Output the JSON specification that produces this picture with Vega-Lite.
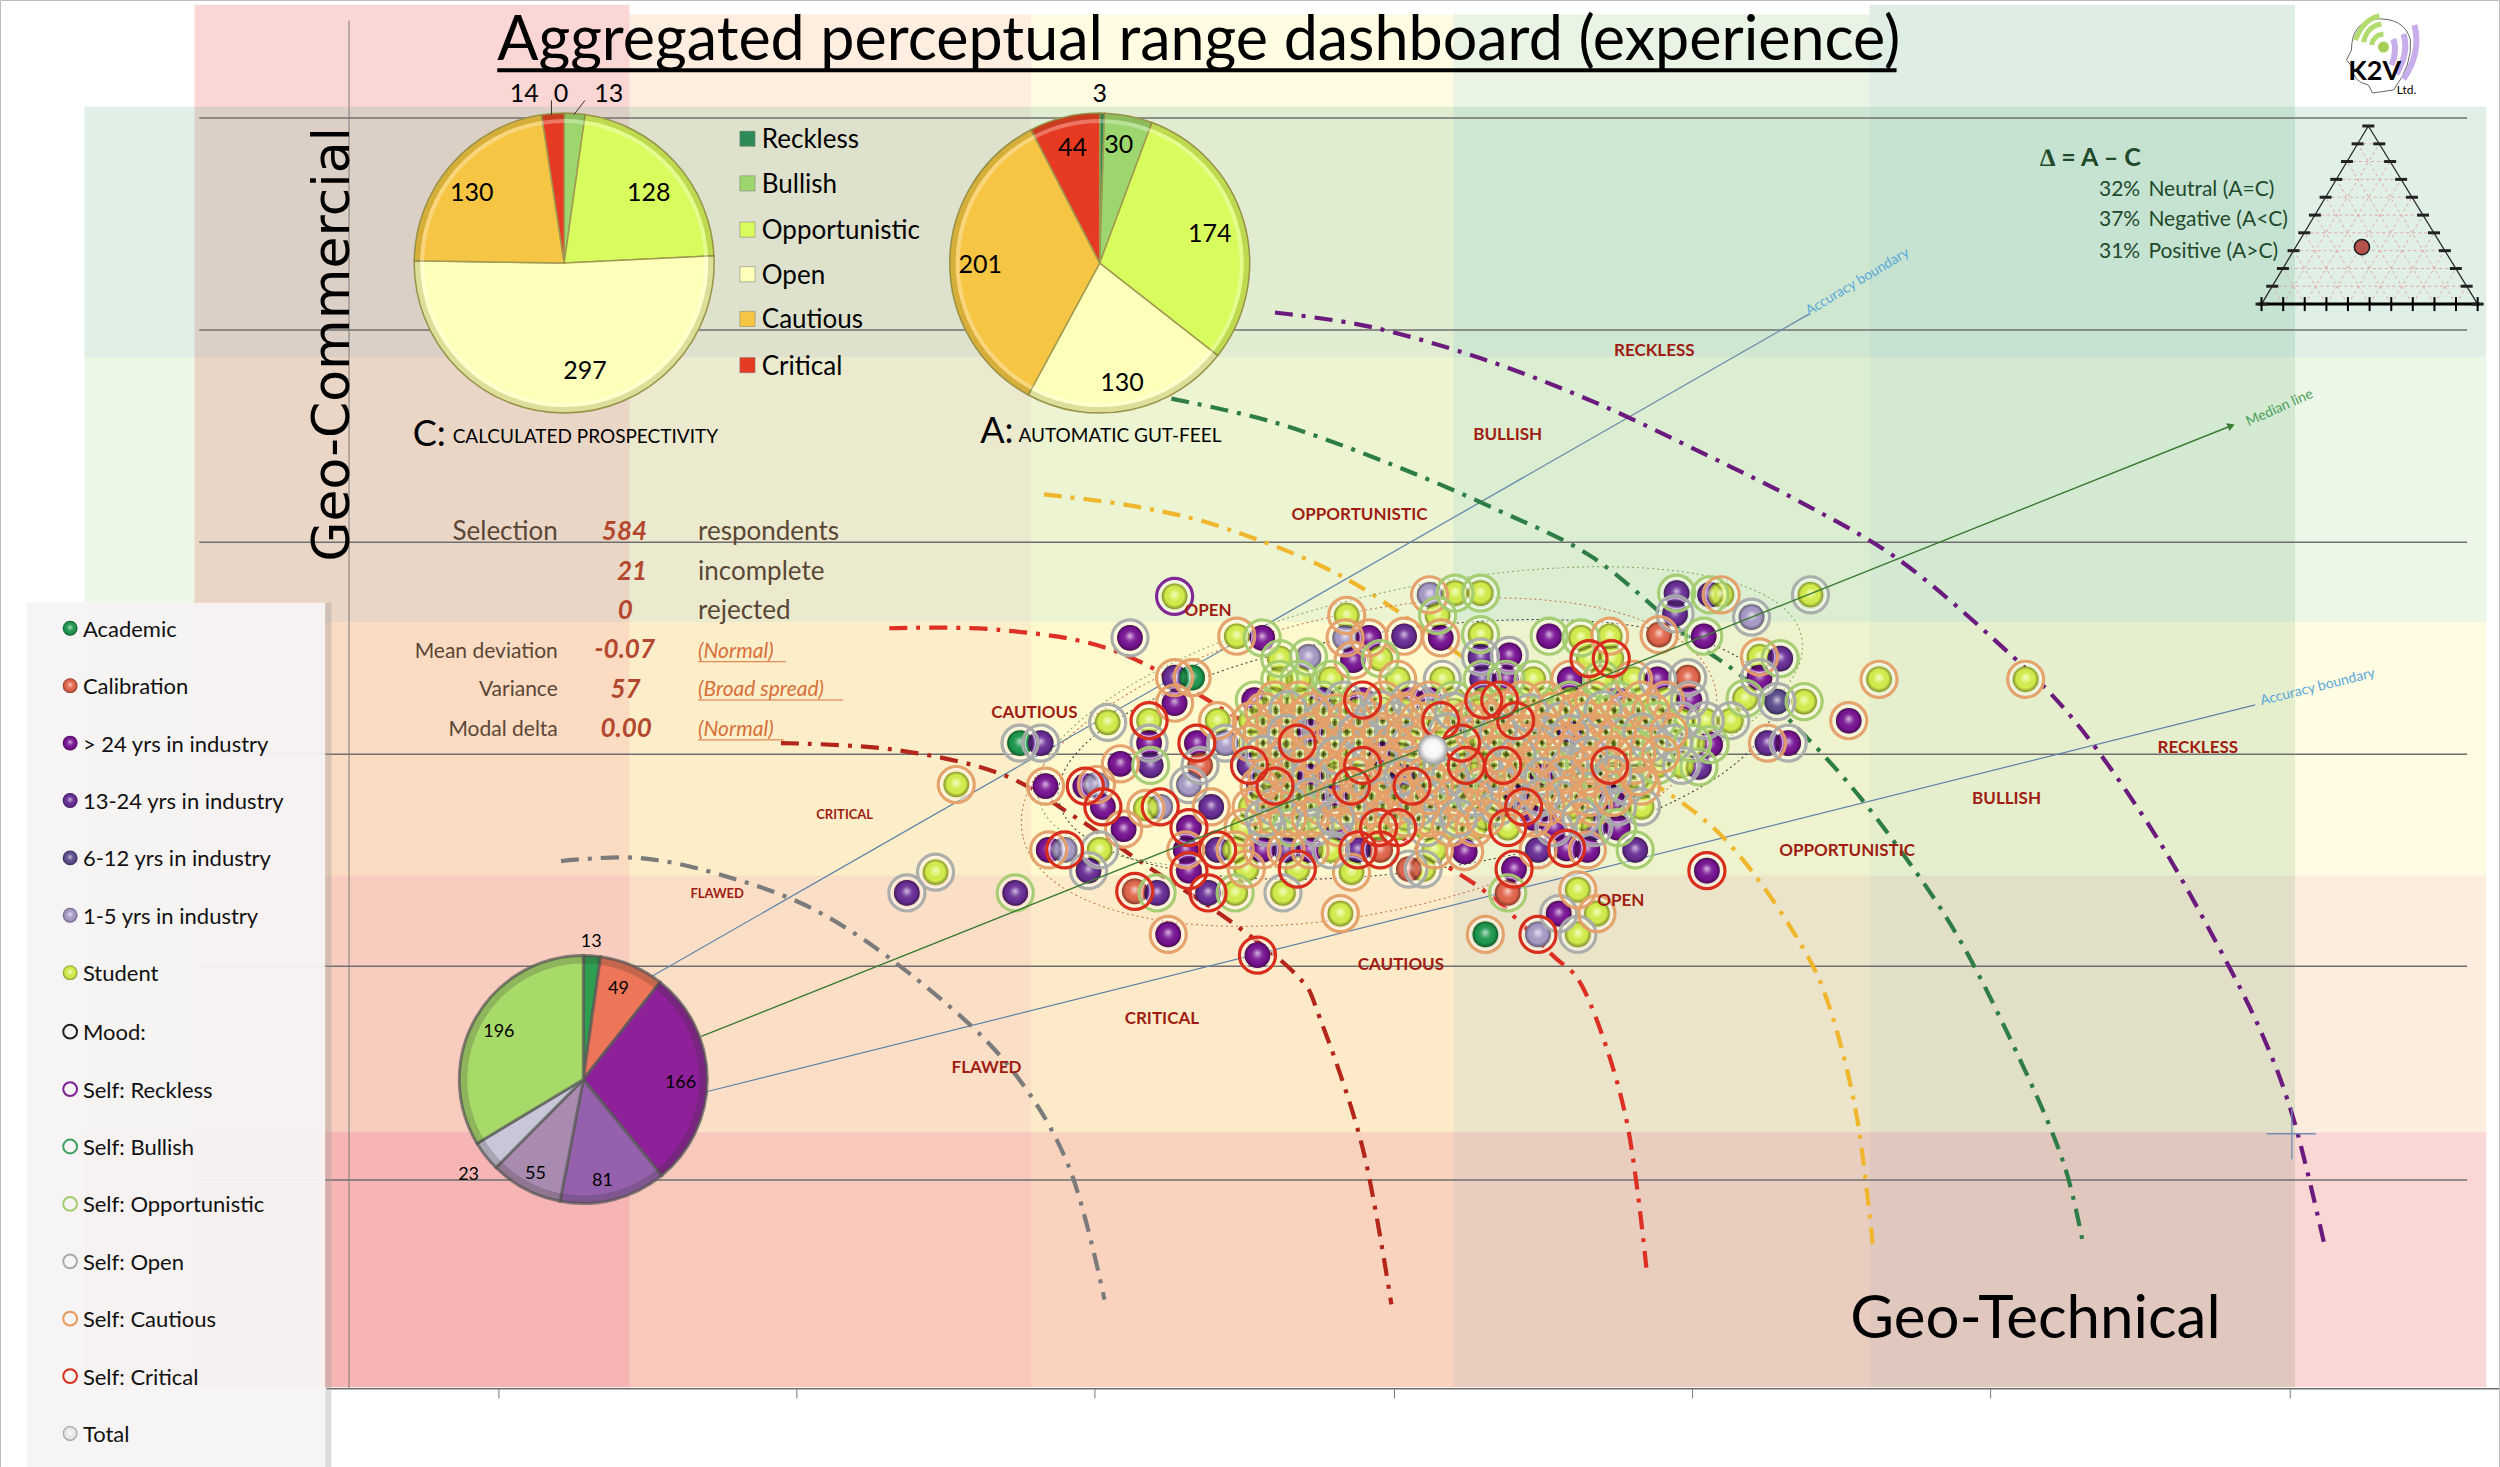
{"$schema":"https://vega.github.io/schema/vega-lite/v6.json","width":2500,"height":1467,"padding":0,"autosize":{"type":"fit","contains":"padding"},"background":"white","view":{"stroke":"#bdbdbd"},"config":{"text":{"dy":1.5}},
"datasets":{
"pts":[
{"x":737,"y":374,"g":"S","m":"R"},{"x":709,"y":400,"g":"D","m":"O"},{"x":776,"y":399,"g":"S","m":"C"},{"x":792,"y":400,"g":"D","m":"P"},{"x":821,"y":412,"g":"L","m":"P"},{"x":803,"y":413,"g":"S","m":"P"},{"x":845,"y":386,"g":"S","m":"C"},{"x":844,"y":400,"g":"L","m":"C"},{"x":859,"y":400,"g":"D","m":"C"},{"x":881,"y":399,"g":"M","m":"C"},{"x":849,"y":414,"g":"D","m":"C"},{"x":866,"y":413,"g":"S","m":"P"},{"x":897,"y":373,"g":"L","m":"C"},{"x":913,"y":372,"g":"S","m":"P"},{"x":929,"y":372,"g":"S","m":"P"},{"x":902,"y":386,"g":"S","m":"P"},{"x":904,"y":400,"g":"D","m":"C"},{"x":929,"y":398,"g":"S","m":"P"},{"x":929,"y":412,"g":"M","m":"O"},{"x":947,"y":411,"g":"D","m":"O"},{"x":972,"y":399,"g":"D","m":"P"},{"x":992,"y":400,"g":"S","m":"P"},{"x":1010,"y":399,"g":"S","m":"C"},{"x":997,"y":413,"g":"S","m":"K"},{"x":1011,"y":413,"g":"S","m":"K"},
{"x":1052,"y":372,"g":"M","m":"P"},{"x":1073,"y":373,"g":"M","m":"P"},{"x":1080,"y":373,"g":"S","m":"C"},{"x":1051,"y":385,"g":"M","m":"O"},{"x":1099,"y":387,"g":"L","m":"O"},{"x":1136,"y":373,"g":"S","m":"O"},{"x":1069,"y":399,"g":"D","m":"P"},{"x":1041,"y":398,"g":"C","m":"C"},{"x":1104,"y":412,"g":"S","m":"C"},{"x":1117,"y":413,"g":"M","m":"P"},{"x":1104,"y":425,"g":"D","m":"O"},{"x":1095,"y":438,"g":"S","m":"P"},{"x":1115,"y":440,"g":"N","m":"O"},{"x":1132,"y":440,"g":"S","m":"P"},{"x":1086,"y":452,"g":"S","m":"O"},{"x":1179,"y":426,"g":"S","m":"C"},{"x":1160,"y":452,"g":"D","m":"C"},{"x":1109,"y":466,"g":"M","m":"C"},{"x":1122,"y":466,"g":"D","m":"O"},{"x":1073,"y":467,"g":"D","m":"P"},{"x":1066,"y":481,"g":"M","m":"P"},{"x":1059,"y":425,"g":"C","m":"O"},{"x":1271,"y":426,"g":"S","m":"C"},
{"x":640,"y":466,"g":"A","m":"O"},{"x":653,"y":466,"g":"M","m":"O"},{"x":695,"y":453,"g":"S","m":"O"},{"x":656,"y":493,"g":"D","m":"C"},{"x":600,"y":492,"g":"S","m":"C"},{"x":737,"y":425,"g":"M","m":"C"},{"x":748,"y":425,"g":"A","m":"C"},{"x":737,"y":441,"g":"D","m":"C"},{"x":721,"y":452,"g":"S","m":"K"},{"x":764,"y":452,"g":"S","m":"C"},{"x":751,"y":466,"g":"D","m":"K"},{"x":769,"y":466,"g":"L","m":"O"},{"x":721,"y":466,"g":"D","m":"O"},{"x":753,"y":480,"g":"C","m":"O"},{"x":703,"y":479,"g":"D","m":"C"},{"x":722,"y":480,"g":"M","m":"P"},{"x":681,"y":493,"g":"D","m":"K"},{"x":688,"y":492,"g":"L","m":"C"},{"x":746,"y":492,"g":"L","m":"O"},{"x":728,"y":506,"g":"L","m":"K"},{"x":692,"y":506,"g":"D","m":"K"},{"x":760,"y":506,"g":"M","m":"C"},{"x":719,"y":507,"g":"S","m":"C"},{"x":705,"y":520,"g":"D","m":"C"},{"x":746,"y":519,"g":"D","m":"K"},{"x":658,"y":533,"g":"D","m":"C"},{"x":668,"y":533,"g":"L","m":"K"},{"x":690,"y":533,"g":"S","m":"O"},{"x":764,"y":533,"g":"M","m":"K"},{"x":744,"y":533,"g":"D","m":"C"},{"x":683,"y":546,"g":"M","m":"O"},{"x":637,"y":560,"g":"M","m":"P"},{"x":712,"y":559,"g":"C","m":"K"},{"x":726,"y":560,"g":"M","m":"P"},{"x":758,"y":560,"g":"M","m":"K"},{"x":746,"y":546,"g":"D","m":"K"},{"x":775,"y":560,"g":"S","m":"P"},{"x":805,"y":560,"g":"S","m":"O"},{"x":841,"y":573,"g":"S","m":"C"},{"x":733,"y":586,"g":"D","m":"C"},{"x":789,"y":599,"g":"D","m":"K"},{"x":932,"y":586,"g":"A","m":"C"},{"x":965,"y":586,"g":"L","m":"K"},{"x":990,"y":586,"g":"S","m":"O"},{"x":978,"y":573,"g":"D","m":"O"},{"x":1002,"y":573,"g":"S","m":"C"},{"x":990,"y":558,"g":"S","m":"C"},{"x":946,"y":560,"g":"C","m":"P"},{"x":950,"y":545,"g":"D","m":"K"},{"x":1071,"y":546,"g":"D","m":"K"},{"x":1026,"y":533,"g":"M","m":"P"},{"x":996,"y":533,"g":"D","m":"C"},{"x":983,"y":532,"g":"D","m":"K"},{"x":965,"y":533,"g":"M","m":"C"},{"x":919,"y":534,"g":"D","m":"C"},{"x":893,"y":545,"g":"S","m":"O"},{"x":884,"y":545,"g":"C","m":"O"},{"x":848,"y":547,"g":"S","m":"C"},{"x":866,"y":533,"g":"C","m":"K"},{"x":814,"y":545,"g":"S","m":"K"},{"x":782,"y":545,"g":"S","m":"C"},{"x":569,"y":560,"g":"M","m":"O"},{"x":587,"y":547,"g":"S","m":"O"},
{"x":803,"y":426,"g":"S","m":"P"},{"x":815,"y":426,"g":"S","m":"P"},{"x":835,"y":426,"g":"S","m":"P"},{"x":877,"y":426,"g":"S","m":"C"},{"x":905,"y":426,"g":"S","m":"O"},{"x":930,"y":426,"g":"M","m":"P"},{"x":945,"y":426,"g":"D","m":"P"},{"x":962,"y":426,"g":"S","m":"P"},{"x":985,"y":426,"g":"D","m":"C"},{"x":1005,"y":426,"g":"S","m":"P"},{"x":1025,"y":426,"g":"S","m":"C"},{"x":1040,"y":426,"g":"D","m":"O"},
{"x":787,"y":439,"g":"D","m":"P"},{"x":800,"y":439,"g":"S","m":"C"},{"x":815,"y":439,"g":"S","m":"C"},{"x":830,"y":439,"g":"M","m":"P"},{"x":843,"y":439,"g":"S","m":"O"},{"x":855,"y":439,"g":"D","m":"K"},{"x":868,"y":439,"g":"S","m":"C"},{"x":885,"y":439,"g":"D","m":"O"},{"x":897,"y":439,"g":"D","m":"C"},{"x":912,"y":439,"g":"S","m":"P"},{"x":931,"y":439,"g":"S","m":"K"},{"x":941,"y":439,"g":"S","m":"K"},{"x":955,"y":439,"g":"S","m":"C"},{"x":970,"y":439,"g":"S","m":"C"},{"x":985,"y":439,"g":"S","m":"P"},{"x":1000,"y":439,"g":"S","m":"C"},{"x":1015,"y":439,"g":"M","m":"P"},{"x":1030,"y":439,"g":"S","m":"C"},{"x":1045,"y":439,"g":"S","m":"C"},{"x":1060,"y":439,"g":"D","m":"O"},
{"x":785,"y":452,"g":"S","m":"C"},{"x":800,"y":452,"g":"S","m":"C"},{"x":815,"y":452,"g":"S","m":"C"},{"x":830,"y":452,"g":"S","m":"O"},{"x":845,"y":452,"g":"S","m":"C"},{"x":860,"y":452,"g":"S","m":"O"},{"x":875,"y":452,"g":"S","m":"O"},{"x":890,"y":452,"g":"S","m":"C"},{"x":904,"y":452,"g":"S","m":"K"},{"x":920,"y":452,"g":"D","m":"C"},{"x":935,"y":452,"g":"S","m":"C"},{"x":951,"y":452,"g":"S","m":"K"},{"x":966,"y":452,"g":"S","m":"C"},{"x":980,"y":452,"g":"S","m":"O"},{"x":996,"y":452,"g":"M","m":"C"},{"x":1010,"y":452,"g":"D","m":"C"},{"x":1025,"y":452,"g":"S","m":"P"},{"x":1040,"y":452,"g":"S","m":"P"},{"x":1055,"y":452,"g":"S","m":"O"},{"x":1070,"y":452,"g":"S","m":"O"},
{"x":785,"y":466,"g":"S","m":"C"},{"x":800,"y":466,"g":"S","m":"C"},{"x":814,"y":466,"g":"D","m":"K"},{"x":830,"y":466,"g":"S","m":"O"},{"x":845,"y":466,"g":"S","m":"C"},{"x":860,"y":466,"g":"S","m":"O"},{"x":875,"y":466,"g":"S","m":"C"},{"x":885,"y":466,"g":"S","m":"O"},{"x":917,"y":466,"g":"S","m":"K"},{"x":930,"y":466,"g":"S","m":"P"},{"x":945,"y":466,"g":"S","m":"C"},{"x":960,"y":466,"g":"S","m":"C"},{"x":975,"y":466,"g":"S","m":"O"},{"x":990,"y":466,"g":"S","m":"C"},{"x":1005,"y":466,"g":"D","m":"C"},{"x":1020,"y":466,"g":"S","m":"P"},{"x":1035,"y":466,"g":"S","m":"O"},{"x":1050,"y":466,"g":"L","m":"O"},{"x":1062,"y":466,"g":"S","m":"P"},
{"x":784,"y":480,"g":"M","m":"K"},{"x":800,"y":480,"g":"S","m":"O"},{"x":815,"y":480,"g":"S","m":"C"},{"x":830,"y":480,"g":"S","m":"C"},{"x":855,"y":480,"g":"D","m":"K"},{"x":870,"y":480,"g":"S","m":"C"},{"x":886,"y":480,"g":"S","m":"O"},{"x":905,"y":480,"g":"S","m":"O"},{"x":920,"y":480,"g":"S","m":"K"},{"x":930,"y":480,"g":"S","m":"O"},{"x":943,"y":480,"g":"S","m":"K"},{"x":958,"y":480,"g":"S","m":"C"},{"x":972,"y":480,"g":"S","m":"P"},{"x":985,"y":480,"g":"S","m":"O"},{"x":998,"y":480,"g":"S","m":"C"},{"x":1010,"y":480,"g":"S","m":"K"},{"x":1025,"y":480,"g":"S","m":"C"},{"x":1040,"y":480,"g":"S","m":"P"},{"x":1055,"y":480,"g":"S","m":"O"},
{"x":790,"y":493,"g":"M","m":"C"},{"x":800,"y":493,"g":"S","m":"K"},{"x":815,"y":493,"g":"S","m":"O"},{"x":830,"y":493,"g":"S","m":"C"},{"x":848,"y":493,"g":"D","m":"K"},{"x":862,"y":493,"g":"S","m":"O"},{"x":875,"y":493,"g":"S","m":"C"},{"x":886,"y":493,"g":"S","m":"K"},{"x":900,"y":493,"g":"S","m":"C"},{"x":915,"y":493,"g":"S","m":"P"},{"x":930,"y":493,"g":"S","m":"C"},{"x":945,"y":493,"g":"D","m":"O"},{"x":960,"y":493,"g":"D","m":"C"},{"x":975,"y":493,"g":"S","m":"O"},{"x":990,"y":493,"g":"S","m":"C"},{"x":1005,"y":493,"g":"S","m":"P"},{"x":1020,"y":493,"g":"S","m":"O"},{"x":1030,"y":493,"g":"S","m":"C"},
{"x":785,"y":506,"g":"S","m":"C"},{"x":800,"y":506,"g":"S","m":"O"},{"x":815,"y":506,"g":"S","m":"P"},{"x":830,"y":506,"g":"D","m":"C"},{"x":845,"y":506,"g":"M","m":"O"},{"x":860,"y":506,"g":"S","m":"C"},{"x":875,"y":506,"g":"S","m":"C"},{"x":890,"y":506,"g":"S","m":"O"},{"x":905,"y":506,"g":"L","m":"O"},{"x":920,"y":506,"g":"S","m":"C"},{"x":940,"y":506,"g":"D","m":"O"},{"x":956,"y":506,"g":"S","m":"K"},{"x":970,"y":506,"g":"D","m":"C"},{"x":985,"y":506,"g":"S","m":"C"},{"x":1000,"y":506,"g":"D","m":"C"},{"x":1015,"y":506,"g":"S","m":"O"},{"x":1030,"y":506,"g":"S","m":"O"},
{"x":780,"y":519,"g":"S","m":"C"},{"x":795,"y":519,"g":"S","m":"O"},{"x":810,"y":519,"g":"S","m":"P"},{"x":825,"y":519,"g":"S","m":"O"},{"x":840,"y":519,"g":"D","m":"C"},{"x":865,"y":519,"g":"S","m":"K"},{"x":877,"y":519,"g":"S","m":"K"},{"x":895,"y":519,"g":"S","m":"O"},{"x":910,"y":519,"g":"S","m":"C"},{"x":925,"y":519,"g":"S","m":"C"},{"x":946,"y":519,"g":"S","m":"K"},{"x":975,"y":519,"g":"D","m":"O"},{"x":1000,"y":519,"g":"M","m":"O"},{"x":1015,"y":519,"g":"D","m":"P"},
{"x":775,"y":533,"g":"S","m":"C"},{"x":792,"y":533,"g":"D","m":"C"},{"x":807,"y":533,"g":"M","m":"C"},{"x":822,"y":533,"g":"D","m":"C"},{"x":835,"y":533,"g":"S","m":"O"},{"x":852,"y":533,"g":"M","m":"K"},{"x":900,"y":533,"g":"S","m":"C"},
{"x":793,"y":446,"g":"S","m":"C"},{"x":808,"y":445,"g":"S","m":"O"},{"x":823,"y":446,"g":"S","m":"C"},{"x":838,"y":447,"g":"S","m":"C"},{"x":852,"y":446,"g":"S","m":"C"},{"x":867,"y":445,"g":"S","m":"O"},{"x":881,"y":446,"g":"S","m":"C"},{"x":897,"y":447,"g":"S","m":"C"},{"x":912,"y":446,"g":"S","m":"O"},{"x":928,"y":446,"g":"S","m":"C"},{"x":944,"y":445,"g":"S","m":"C"},{"x":960,"y":447,"g":"S","m":"O"},{"x":975,"y":446,"g":"S","m":"C"},{"x":990,"y":446,"g":"S","m":"C"},{"x":1006,"y":445,"g":"S","m":"O"},{"x":1020,"y":446,"g":"S","m":"C"},{"x":1036,"y":446,"g":"S","m":"C"},
{"x":792,"y":459,"g":"S","m":"C"},{"x":807,"y":460,"g":"S","m":"O"},{"x":822,"y":459,"g":"D","m":"C"},{"x":838,"y":460,"g":"S","m":"C"},{"x":852,"y":459,"g":"S","m":"O"},{"x":867,"y":459,"g":"S","m":"C"},{"x":882,"y":460,"g":"S","m":"C"},{"x":908,"y":459,"g":"S","m":"O"},{"x":925,"y":460,"g":"S","m":"C"},{"x":940,"y":459,"g":"S","m":"O"},{"x":955,"y":460,"g":"S","m":"C"},{"x":970,"y":459,"g":"S","m":"C"},{"x":985,"y":460,"g":"M","m":"O"},{"x":1000,"y":459,"g":"S","m":"C"},{"x":1015,"y":460,"g":"S","m":"C"},{"x":1030,"y":459,"g":"S","m":"O"},{"x":1047,"y":459,"g":"S","m":"C"},
{"x":793,"y":473,"g":"S","m":"O"},{"x":808,"y":473,"g":"S","m":"C"},{"x":823,"y":473,"g":"S","m":"C"},{"x":838,"y":474,"g":"S","m":"O"},{"x":852,"y":473,"g":"S","m":"C"},{"x":867,"y":473,"g":"D","m":"C"},{"x":880,"y":474,"g":"S","m":"C"},{"x":912,"y":473,"g":"S","m":"C"},{"x":938,"y":473,"g":"S","m":"C"},{"x":952,"y":474,"g":"S","m":"O"},{"x":967,"y":473,"g":"S","m":"C"},{"x":982,"y":473,"g":"S","m":"C"},{"x":997,"y":474,"g":"S","m":"O"},{"x":1012,"y":473,"g":"S","m":"C"},{"x":1027,"y":473,"g":"S","m":"C"},{"x":1042,"y":473,"g":"S","m":"C"},
{"x":795,"y":487,"g":"S","m":"C"},{"x":808,"y":486,"g":"S","m":"C"},{"x":822,"y":487,"g":"D","m":"O"},{"x":838,"y":486,"g":"S","m":"C"},{"x":852,"y":487,"g":"S","m":"C"},{"x":868,"y":486,"g":"S","m":"C"},{"x":880,"y":487,"g":"M","m":"O"},{"x":895,"y":486,"g":"S","m":"C"},{"x":910,"y":487,"g":"S","m":"O"},{"x":925,"y":486,"g":"S","m":"C"},{"x":940,"y":487,"g":"S","m":"C"},{"x":955,"y":486,"g":"S","m":"C"},{"x":968,"y":487,"g":"D","m":"O"},{"x":982,"y":486,"g":"S","m":"C"},{"x":997,"y":487,"g":"S","m":"C"},{"x":1012,"y":486,"g":"S","m":"O"},{"x":1028,"y":487,"g":"S","m":"C"},
{"x":793,"y":500,"g":"S","m":"C"},{"x":808,"y":500,"g":"S","m":"C"},{"x":822,"y":500,"g":"S","m":"O"},{"x":838,"y":500,"g":"D","m":"C"},{"x":853,"y":499,"g":"S","m":"C"},{"x":868,"y":500,"g":"S","m":"O"},{"x":882,"y":500,"g":"S","m":"C"},{"x":897,"y":499,"g":"S","m":"C"},{"x":912,"y":500,"g":"S","m":"C"},{"x":925,"y":500,"g":"S","m":"O"},{"x":938,"y":500,"g":"S","m":"C"},{"x":952,"y":500,"g":"M","m":"C"},{"x":967,"y":500,"g":"S","m":"O"},{"x":982,"y":499,"g":"S","m":"C"},{"x":997,"y":500,"g":"S","m":"C"},{"x":1012,"y":500,"g":"D","m":"C"},
{"x":793,"y":513,"g":"S","m":"O"},{"x":808,"y":513,"g":"S","m":"C"},{"x":822,"y":513,"g":"S","m":"C"},{"x":838,"y":513,"g":"S","m":"O"},{"x":852,"y":513,"g":"S","m":"C"},{"x":868,"y":512,"g":"S","m":"C"},{"x":882,"y":513,"g":"S","m":"C"},{"x":898,"y":513,"g":"S","m":"C"},{"x":915,"y":513,"g":"S","m":"O"},{"x":932,"y":513,"g":"S","m":"C"},{"x":962,"y":513,"g":"D","m":"C"},{"x":992,"y":513,"g":"S","m":"O"}
],
"curves":[
{"c":"Reckless","k":1,"x":800,"y":196},{"c":"Reckless","k":2,"x":860,"y":205},{"c":"Reckless","k":3,"x":930,"y":225},{"c":"Reckless","k":4,"x":1000,"y":252},{"c":"Reckless","k":5,"x":1070,"y":285},{"c":"Reckless","k":6,"x":1130,"y":315},{"c":"Reckless","k":7,"x":1190,"y":350},{"c":"Reckless","k":8,"x":1250,"y":400},{"c":"Reckless","k":9,"x":1300,"y":450},{"c":"Reckless","k":10,"x":1350,"y":520},{"c":"Reckless","k":11,"x":1390,"y":590},{"c":"Reckless","k":12,"x":1420,"y":650},{"c":"Reckless","k":13,"x":1440,"y":705},{"c":"Reckless","k":14,"x":1459,"y":783},
{"c":"Bullish","k":1,"x":735,"y":250},{"c":"Bullish","k":2,"x":800,"y":265},{"c":"Bullish","k":3,"x":870,"y":290},{"c":"Bullish","k":4,"x":940,"y":320},{"c":"Bullish","k":5,"x":1000,"y":350},{"c":"Bullish","k":6,"x":1060,"y":400},{"c":"Bullish","k":7,"x":1100,"y":430},{"c":"Bullish","k":8,"x":1150,"y":480},{"c":"Bullish","k":9,"x":1190,"y":530},{"c":"Bullish","k":10,"x":1230,"y":590},{"c":"Bullish","k":11,"x":1270,"y":670},{"c":"Bullish","k":12,"x":1295,"y":730},{"c":"Bullish","k":13,"x":1307,"y":780},
{"c":"Opportunistic","k":1,"x":655,"y":310},{"c":"Opportunistic","k":2,"x":715,"y":318},{"c":"Opportunistic","k":3,"x":771,"y":332},{"c":"Opportunistic","k":4,"x":843,"y":362},{"c":"Opportunistic","k":5,"x":915,"y":410},{"c":"Opportunistic","k":6,"x":987,"y":460},{"c":"Opportunistic","k":7,"x":1059,"y":506},{"c":"Opportunistic","k":8,"x":1095,"y":541},{"c":"Opportunistic","k":9,"x":1131,"y":594},{"c":"Opportunistic","k":10,"x":1149,"y":635},{"c":"Opportunistic","k":11,"x":1165,"y":700},{"c":"Opportunistic","k":12,"x":1175,"y":780},
{"c":"Open","k":1,"x":558,"y":394},{"c":"Open","k":2,"x":627,"y":395},{"c":"Open","k":3,"x":699,"y":408},{"c":"Open","k":4,"x":771,"y":447},{"c":"Open","k":5,"x":818,"y":479},{"c":"Open","k":6,"x":879,"y":525},{"c":"Open","k":7,"x":933,"y":560},{"c":"Open","k":8,"x":973,"y":598},{"c":"Open","k":9,"x":995,"y":623},{"c":"Open","k":10,"x":1020,"y":700},{"c":"Open","k":11,"x":1033,"y":795},
{"c":"Cautious","k":1,"x":490,"y":466},{"c":"Cautious","k":2,"x":560,"y":470},{"c":"Cautious","k":3,"x":627,"y":485},{"c":"Cautious","k":4,"x":674,"y":512},{"c":"Cautious","k":5,"x":721,"y":544},{"c":"Cautious","k":6,"x":771,"y":577},{"c":"Cautious","k":7,"x":814,"y":612},{"c":"Cautious","k":8,"x":828,"y":638},{"c":"Cautious","k":9,"x":855,"y":720},{"c":"Cautious","k":10,"x":873,"y":818},
{"c":"Flawed","k":1,"x":352,"y":540},{"c":"Flawed","k":2,"x":400,"y":538},{"c":"Flawed","k":3,"x":450,"y":548},{"c":"Flawed","k":4,"x":510,"y":570},{"c":"Flawed","k":5,"x":570,"y":610},{"c":"Flawed","k":6,"x":630,"y":665},{"c":"Flawed","k":7,"x":670,"y":730},{"c":"Flawed","k":8,"x":693,"y":815}
],
"pieC":[{"cat":"Reckless","k":1,"v":0,"x":354,"y":165},{"cat":"Bullish","k":2,"v":13,"x":354,"y":165},{"cat":"Opportunistic","k":3,"v":128,"x":354,"y":165},{"cat":"Open","k":4,"v":297,"x":354,"y":165},{"cat":"Cautious","k":5,"v":130,"x":354,"y":165},{"cat":"Critical","k":6,"v":14,"x":354,"y":165}],
"pieA":[{"cat":"Reckless","k":1,"v":3,"x":690,"y":165},{"cat":"Bullish","k":2,"v":30,"x":690,"y":165},{"cat":"Opportunistic","k":3,"v":174,"x":690,"y":165},{"cat":"Open","k":4,"v":130,"x":690,"y":165},{"cat":"Cautious","k":5,"v":201,"x":690,"y":165},{"cat":"Critical","k":6,"v":44,"x":690,"y":165}],
"pieE":[{"cat":"Academic","k":1,"v":13,"x":366,"y":677},{"cat":"Calibration","k":2,"v":49,"x":366,"y":677},{"cat":">24","k":3,"v":166,"x":366,"y":677},{"cat":"13-24","k":4,"v":81,"x":366,"y":677},{"cat":"6-12","k":5,"v":55,"x":366,"y":677},{"cat":"1-5","k":6,"v":23,"x":366,"y":677},{"cat":"Student","k":7,"v":196,"x":366,"y":677}],
"legend":[{"t":"Academic","x":44,"y":394,"g":"A"},{"t":"Calibration","x":44,"y":430,"g":"C"},{"t":"> 24 yrs in industry","x":44,"y":466,"g":"D"},{"t":"13-24 yrs in industry","x":44,"y":502,"g":"M"},{"t":"6-12 yrs in industry","x":44,"y":538,"g":"N"},{"t":"1-5 yrs in industry","x":44,"y":574,"g":"L"},{"t":"Student","x":44,"y":610,"g":"S"},{"t":"Total","x":44,"y":899,"g":"T"}],
"legendR":[{"t":"Mood:","x":44,"y":647,"m":"X"},{"t":"Self: Reckless","x":44,"y":683,"m":"R"},{"t":"Self: Bullish","x":44,"y":719,"m":"B"},{"t":"Self: Opportunistic","x":44,"y":755,"m":"P"},{"t":"Self: Open","x":44,"y":791,"m":"O"},{"t":"Self: Cautious","x":44,"y":827,"m":"C"},{"t":"Self: Critical","x":44,"y":863,"m":"K"}]
},
"encoding":{"x":{"field":"x","type":"quantitative","scale":{"domain":[0,1568],"nice":false,"zero":false},"axis":null},"y":{"field":"y","type":"quantitative","scale":{"domain":[920,0],"nice":false,"zero":false},"axis":null}},
"resolve":{"scale":{"color":"independent","stroke":"independent","theta":"independent"},"legend":{"color":"independent"}},
"layer":[
{"data":{"values":[{"b":"a","x":122,"x2":395,"y":3,"y2":870},{"b":"b","x":395,"x2":647,"y":9,"y2":870},{"b":"c","x":647,"x2":912,"y":9,"y2":870},{"b":"d","x":912,"x2":1173,"y":9,"y2":870},{"b":"e","x":1173,"x2":1440,"y":3,"y2":870}]},"mark":{"type":"rect","opacity":0.21},"encoding":{"x2":{"field":"x2"},"y2":{"field":"y2"},"color":{"field":"b","type":"nominal","scale":{"domain":["a","b","c","d","e"],"range":["#e63f38","#f4ae6e","#fff27a","#9ecb80","#62ad80"]},"legend":null}}},
{"data":{"values":[{"b":"a","x":53,"x2":1560,"y":67,"y2":224},{"b":"b","x":53,"x2":1560,"y":224,"y2":390},{"b":"c","x":53,"x2":1560,"y":390,"y2":549},{"b":"d","x":53,"x2":1560,"y":549,"y2":710},{"b":"e","x":53,"x2":1560,"y":710,"y2":870}]},"mark":{"type":"rect","opacity":0.21},"encoding":{"x2":{"field":"x2"},"y2":{"field":"y2"},"color":{"field":"b","type":"nominal","scale":{"domain":["a","b","c","d","e"],"range":["#6db68a","#a8d890","#fff27a","#f2a868","#e63f38"]},"legend":null}}},
{"data":{"values":[{"x":125,"x2":1548,"y":74},{"x":125,"x2":1548,"y":207},{"x":125,"x2":1548,"y":340},{"x":125,"x2":1548,"y":473},{"x":125,"x2":1548,"y":606},{"x":125,"x2":1548,"y":740},{"x":205,"x2":1568,"y":871}]},"mark":{"type":"rule","color":"#6f6f6f","strokeWidth":1.5},"encoding":{"x2":{"field":"x2"}}},
{"data":{"values":[{"x":219,"y":13,"y2":871},{"x":313,"y":871,"y2":877},{"x":500,"y":871,"y2":877},{"x":687,"y":871,"y2":877},{"x":875,"y":871,"y2":877},{"x":1062,"y":871,"y2":877},{"x":1249,"y":871,"y2":877},{"x":1437,"y":871,"y2":877}]},"mark":{"type":"rule","color":"#7a7a7a","strokeWidth":1},"encoding":{"y2":{"field":"y2"}}},
{"data":{"values":[{"x":204,"x2":208,"y":378,"y2":920}]},"mark":{"type":"rect","fill":"#9a9a9a","opacity":0.35},"encoding":{"x2":{"field":"x2"},"y2":{"field":"y2"}}},
{"data":{"values":[{"x":17,"x2":204,"y":378,"y2":920}]},"mark":{"type":"rect","fill":"#f5f3f3","opacity":0.95},"encoding":{"x2":{"field":"x2"},"y2":{"field":"y2"}}},
{"data":{"values":[{"x":371,"x2":1135,"y":634,"y2":197},{"x":442,"x2":1415,"y":685,"y2":442}]},"mark":{"type":"rule","color":"#5f83a8","strokeWidth":1.2},"encoding":{"x2":{"field":"x2"},"y2":{"field":"y2"}}},
{"data":{"values":[{"x":1400,"y":267}]},"mark":{"type":"point","shape":"triangle-right","angle":-22,"filled":true,"color":"#3d7a35","size":70,"opacity":1}},
{"data":{"name":"curves"},"mark":{"type":"line","interpolate":"cardinal","strokeWidth":4.2,"strokeDash":[18,9,4,9]},"encoding":{"order":{"field":"k","type":"quantitative"},"color":{"field":"c","type":"nominal","scale":{"domain":["Reckless","Bullish","Opportunistic","Open","Cautious","Flawed"],"range":["#6a1b7d","#2f7d46","#f0b62e","#dd2f24","#b5261a","#7b7b7b"]},"legend":null}}},
{"data":{"values":[{"x":891,"y":450}]},"mark":{"type":"point","shape":"M-390,0A390,130 0 1,1 390,0A390,130 0 1,1 -390,0Z","angle":-12,"size":4,"filled":false,"stroke":"#7fa85c","strokeWidth":1,"strokeDash":[2,3],"opacity":1}},
{"data":{"values":[{"x":859,"y":478}]},"mark":{"type":"point","shape":"M-354,0A354,150 0 1,1 354,0A354,150 0 1,1 -354,0Z","angle":-12,"size":4,"filled":false,"stroke":"#c8704a","strokeWidth":1,"strokeDash":[2,3],"opacity":1}},
{"data":{"values":[{"x":888,"y":470}]},"mark":{"type":"point","shape":"M-360,0A360,121 0 1,1 360,0A360,121 0 1,1 -360,0Z","angle":-8,"size":4,"filled":false,"stroke":"#333333","strokeWidth":1,"strokeDash":[2,3],"opacity":1}},
{"data":{"name":"pts"},"mark":{"type":"point","filled":true,"shape":"circle","size":660,"opacity":1},"encoding":{"color":{"field":"g","type":"nominal","scale":{"domain":["A","C","D","M","N","L","S","T"],"range":["#1f9a50","#e4674c","#7b1596","#6a2f98","#5d4e8e","#a99cc8","#d6f04c","#eeeeee"]},"legend":null}}},
{"data":{"name":"pts"},"mark":{"type":"point","filled":true,"shape":"circle","size":660,"opacity":1,"fill":{"gradient":"radial","x1":0.5,"y1":0.42,"r1":0,"x2":0.5,"y2":0.5,"r2":0.5,"stops":[{"offset":0,"color":"rgba(255,255,255,0.7)"},{"offset":0.35,"color":"rgba(255,255,255,0.15)"},{"offset":0.7,"color":"rgba(0,0,0,0)"},{"offset":1,"color":"rgba(0,0,0,0.4)"}]}}},
{"data":{"name":"pts"},"mark":{"type":"point","filled":false,"shape":"circle","size":960,"stroke":"#ffffff","strokeWidth":1.6,"opacity":0.6}},
{"data":{"name":"pts"},"transform":[{"filter":"datum.m!='K'"}],"mark":{"type":"point","filled":false,"shape":"circle","size":1300,"strokeWidth":3.2,"opacity":0.95},"encoding":{"stroke":{"field":"m","type":"nominal","scale":{"domain":["X","R","B","P","O","C","K"],"range":["#222222","#7b1f92","#3f9f5f","#a4cd70","#a9aca9","#e5a068","#d92e1c"]},"legend":null}}},
{"data":{"name":"pts"},"transform":[{"filter":"datum.m=='K'"}],"mark":{"type":"point","filled":false,"shape":"circle","size":1300,"stroke":"#d92e1c","strokeWidth":3.2,"opacity":1}},
{"data":{"values":[{"x":440,"x2":1400,"y":650,"y2":267}]},"mark":{"type":"rule","color":"#3d7a35","strokeWidth":1.4},"encoding":{"x2":{"field":"x2"},"y2":{"field":"y2"}}},
{"data":{"values":[{"x":899,"y":470}]},"mark":{"type":"point","filled":true,"shape":"circle","size":900,"opacity":1,"fill":{"gradient":"radial","x1":0.5,"y1":0.42,"r1":0,"x2":0.5,"y2":0.5,"r2":0.5,"stops":[{"offset":0,"color":"#ffffff"},{"offset":0.6,"color":"#f4f4f4"},{"offset":1,"color":"#9a9a9a"}]}}},
{"data":{"name":"pieC"},"mark":{"type":"arc","radius":150,"stroke":"#a09a50","strokeWidth":1.5},"encoding":{"theta":{"field":"v","type":"quantitative","stack":true},"order":{"field":"k","type":"quantitative"},"color":{"field":"cat","type":"nominal","scale":{"domain":["Reckless","Bullish","Opportunistic","Open","Cautious","Critical"],"range":["#2e8b57","#9cd66c","#d8fb5e","#feffb8","#f6c544","#e73a22"]},"legend":null}}},
{"data":{"name":"pieC"},"mark":{"type":"arc","radius":150,"radius2":144,"fill":"#4a4a10","fillOpacity":0.18},"encoding":{"theta":{"field":"v","type":"quantitative","stack":true},"order":{"field":"k","type":"quantitative"},"detail":{"field":"cat"}}},
{"data":{"name":"pieC"},"mark":{"type":"arc","radius":144,"radius2":140,"fill":"#ffffff","fillOpacity":0.3},"encoding":{"theta":{"field":"v","type":"quantitative","stack":true},"order":{"field":"k","type":"quantitative"},"detail":{"field":"cat"}}},
{"data":{"name":"pieA"},"mark":{"type":"arc","radius":150,"stroke":"#a09a50","strokeWidth":1.5},"encoding":{"theta":{"field":"v","type":"quantitative","stack":true},"order":{"field":"k","type":"quantitative"},"color":{"field":"cat","type":"nominal","scale":{"domain":["Reckless","Bullish","Opportunistic","Open","Cautious","Critical"],"range":["#2e8b57","#9cd66c","#d8fb5e","#feffb8","#f6c544","#e73a22"]},"legend":null}}},
{"data":{"name":"pieA"},"mark":{"type":"arc","radius":150,"radius2":144,"fill":"#4a4a10","fillOpacity":0.18},"encoding":{"theta":{"field":"v","type":"quantitative","stack":true},"order":{"field":"k","type":"quantitative"},"detail":{"field":"cat"}}},
{"data":{"name":"pieA"},"mark":{"type":"arc","radius":144,"radius2":140,"fill":"#ffffff","fillOpacity":0.3},"encoding":{"theta":{"field":"v","type":"quantitative","stack":true},"order":{"field":"k","type":"quantitative"},"detail":{"field":"cat"}}},
{"data":{"name":"pieE"},"mark":{"type":"arc","radius":124,"stroke":"#5a5a5a","strokeWidth":3,"strokeOpacity":0.7},"encoding":{"theta":{"field":"v","type":"quantitative","stack":true},"order":{"field":"k","type":"quantitative"},"color":{"field":"cat","type":"nominal","scale":{"domain":["Academic","Calibration",">24","13-24","6-12","1-5","Student"],"range":["#2e9e50","#ee7658","#8e2199","#9560ac","#a98bb0","#c8c6d8","#a8da6a"]},"legend":null}}},
{"data":{"name":"pieE"},"mark":{"type":"arc","radius":124,"radius2":116,"fill":"#30302a","fillOpacity":0.22},"encoding":{"theta":{"field":"v","type":"quantitative","stack":true},"order":{"field":"k","type":"quantitative"},"detail":{"field":"cat"}}},
{"data":{"values":[{"x":312,"x2":1190,"y":44}]},"mark":{"type":"rule","color":"#000000","strokeWidth":4},"encoding":{"x2":{"field":"x2"}}},
{"data":{"values":[{"x":312,"y":37,"t":"Aggregated perceptual range dashboard (experience)"}]},"mark":{"type":"text","font":"Lato","fontSize":61,"align":"left","baseline":"alphabetic","color":"#000000"},"encoding":{"text":{"field":"t"}}},
{"data":{"values":[{"x":218,"y":216,"t":"Geo-Commercial"}]},"mark":{"type":"text","font":"DejaVu Sans","fontSize":52,"angle":270,"align":"center","baseline":"alphabetic","color":"#000000"},"encoding":{"text":{"field":"t"}}},
{"data":{"values":[{"x":1161,"y":838,"t":"Geo-Technical"}]},"mark":{"type":"text","font":"Lato","fontSize":60,"align":"left","baseline":"alphabetic","color":"#000000"},"encoding":{"text":{"field":"t"}}},
{"data":{"values":[{"x":329,"y":58,"t":"14"},{"x":352,"y":58,"t":"0"},{"x":382,"y":58,"t":"13"},{"x":407,"y":120,"t":"128"},{"x":367,"y":232,"t":"297"},{"x":296,"y":120,"t":"130"},{"x":690,"y":58,"t":"3"},{"x":702,"y":90,"t":"30"},{"x":759,"y":146,"t":"174"},{"x":704,"y":239,"t":"130"},{"x":615,"y":165,"t":"201"},{"x":673,"y":92,"t":"44"}]},"mark":{"type":"text","font":"Lato","fontSize":25,"align":"center","baseline":"middle","color":"#000000"},"encoding":{"text":{"field":"t"}}},
{"data":{"values":[{"x":346,"x2":346,"y":63,"y2":72},{"x":367,"x2":360,"y":63,"y2":72}]},"mark":{"type":"rule","color":"#333333","strokeWidth":1},"encoding":{"x2":{"field":"x2"},"y2":{"field":"y2"}}},
{"data":{"values":[{"x":371,"y":590,"t":"13"},{"x":388,"y":619,"t":"49"},{"x":427,"y":678,"t":"166"},{"x":378,"y":740,"t":"81"},{"x":336,"y":735,"t":"55"},{"x":294,"y":736,"t":"23"},{"x":313,"y":646,"t":"196"}]},"mark":{"type":"text","font":"Lato","fontSize":18,"align":"center","baseline":"middle","color":"#000000"},"encoding":{"text":{"field":"t"}}},
{"data":{"values":[{"x":469,"y":87,"cat":"Reckless"},{"x":469,"y":115,"cat":"Bullish"},{"x":469,"y":144,"cat":"Opportunistic"},{"x":469,"y":172,"cat":"Open"},{"x":469,"y":200,"cat":"Cautious"},{"x":469,"y":229,"cat":"Critical"}]},"mark":{"type":"point","shape":"square","filled":true,"size":230,"opacity":1,"stroke":"#777777","strokeWidth":0.5},"encoding":{"color":{"field":"cat","type":"nominal","scale":{"domain":["Reckless","Bullish","Opportunistic","Open","Cautious","Critical"],"range":["#2e8b57","#9cd66c","#d8fb5e","#feffb8","#f6c544","#e73a22"]},"legend":null}}},
{"data":{"values":[{"x":478,"y":87,"t":"Reckless"},{"x":478,"y":115,"t":"Bullish"},{"x":478,"y":144,"t":"Opportunistic"},{"x":478,"y":172,"t":"Open"},{"x":478,"y":200,"t":"Cautious"},{"x":478,"y":229,"t":"Critical"}]},"mark":{"type":"text","font":"Lato","fontSize":26,"align":"left","baseline":"middle","color":"#000000"},"encoding":{"text":{"field":"t"}}},
{"data":{"values":[{"x":259,"y":279,"t":"C:"},{"x":615,"y":277,"t":"A:"}]},"mark":{"type":"text","font":"Lato","fontSize":36,"align":"left","baseline":"alphabetic","color":"#000000"},"encoding":{"text":{"field":"t"}}},
{"data":{"values":[{"x":284,"y":277,"t":"CALCULATED PROSPECTIVITY"},{"x":639,"y":276,"t":"AUTOMATIC GUT-FEEL"}]},"mark":{"type":"text","font":"Lato","fontSize":19,"align":"left","baseline":"alphabetic","color":"#000000"},"encoding":{"text":{"field":"t"}}},
{"data":{"values":[{"x":350,"y":333,"t":"Selection"}]},"mark":{"type":"text","font":"Lato","fontSize":26,"align":"right","baseline":"middle","color":"#5a4636"},"encoding":{"text":{"field":"t"}}},
{"data":{"values":[{"x":438,"y":333,"t":"respondents"},{"x":438,"y":358,"t":"incomplete"},{"x":438,"y":382,"t":"rejected"}]},"mark":{"type":"text","font":"Lato","fontSize":26,"align":"left","baseline":"middle","color":"#5a4636"},"encoding":{"text":{"field":"t"}}},
{"data":{"values":[{"x":406,"y":333,"t":"584"},{"x":406,"y":358,"t":"21"},{"x":397,"y":382,"t":"0"},{"x":411,"y":407,"t":"-0.07"},{"x":402,"y":432,"t":"57"},{"x":409,"y":456,"t":"0.00"}]},"mark":{"type":"text","font":"Lato","fontSize":26,"fontStyle":"italic","fontWeight":"bold","align":"right","baseline":"middle","color":"#b3482e"},"encoding":{"text":{"field":"t"}}},
{"data":{"values":[{"x":350,"y":408,"t":"Mean deviation"},{"x":350,"y":432,"t":"Variance"},{"x":350,"y":457,"t":"Modal delta"}]},"mark":{"type":"text","font":"Lato","fontSize":21,"align":"right","baseline":"middle","color":"#5a4636"},"encoding":{"text":{"field":"t"}}},
{"data":{"values":[{"x":438,"y":408,"t":"(Normal)"},{"x":438,"y":432,"t":"(Broad spread)"},{"x":438,"y":457,"t":"(Normal)"}]},"mark":{"type":"text","font":"Lato","fontSize":21,"fontStyle":"italic","align":"left","baseline":"middle","color":"#d8703a"},"encoding":{"text":{"field":"t"}}},
{"data":{"values":[{"x":438,"x2":493,"y":415},{"x":438,"x2":529,"y":439},{"x":438,"x2":492,"y":464}]},"mark":{"type":"rule","color":"#d8703a","strokeWidth":1},"encoding":{"x2":{"field":"x2"}}},
{"data":{"values":[{"x":1038,"y":219,"t":"RECKLESS"},{"x":946,"y":272,"t":"BULLISH"},{"x":853,"y":322,"t":"OPPORTUNISTIC"},{"x":758,"y":382,"t":"OPEN"},{"x":649,"y":446,"t":"CAUTIOUS"},{"x":1379,"y":468,"t":"RECKLESS"},{"x":1259,"y":500,"t":"BULLISH"},{"x":1159,"y":533,"t":"OPPORTUNISTIC"},{"x":1017,"y":564,"t":"OPEN"},{"x":879,"y":604,"t":"CAUTIOUS"},{"x":729,"y":638,"t":"CRITICAL"},{"x":619,"y":669,"t":"FLAWED"}]},"mark":{"type":"text","font":"Lato","fontSize":17,"fontWeight":"bold","align":"center","baseline":"middle","color":"#a01c12"},"encoding":{"text":{"field":"t"}}},
{"data":{"values":[{"x":530,"y":510,"t":"CRITICAL"},{"x":450,"y":560,"t":"FLAWED"}]},"mark":{"type":"text","font":"Lato","fontSize":13,"fontWeight":"bold","align":"center","baseline":"middle","color":"#a01c12"},"encoding":{"text":{"field":"t"}}},
{"data":{"values":[{"x":1165,"y":176,"t":"Accuracy boundary"}]},"mark":{"type":"text","font":"Lato","fontSize":14,"angle":-31,"align":"center","baseline":"middle","color":"#5ba8d8"},"encoding":{"text":{"field":"t"}}},
{"data":{"values":[{"x":1454,"y":430,"t":"Accuracy boundary"}]},"mark":{"type":"text","font":"Lato","fontSize":14,"angle":-14,"align":"center","baseline":"middle","color":"#5ba8d8"},"encoding":{"text":{"field":"t"}}},
{"data":{"values":[{"x":1430,"y":255,"t":"Median line"}]},"mark":{"type":"text","font":"Lato","fontSize":14,"angle":-24,"align":"center","baseline":"middle","color":"#4aa05a"},"encoding":{"text":{"field":"t"}}},
{"data":{"values":[{"x":1280,"y":103,"t":"∆ = A – C"}]},"mark":{"type":"text","font":"Lato","fontSize":25,"fontWeight":"bold","align":"left","baseline":"alphabetic","color":"#214a2c"},"encoding":{"text":{"field":"t"}}},
{"data":{"values":[{"x":1317,"y":118,"t":"32%"},{"x":1317,"y":137,"t":"37%"},{"x":1317,"y":157,"t":"31%"},{"x":1348,"y":118,"t":"Neutral (A=C)"},{"x":1348,"y":137,"t":"Negative (A<C)"},{"x":1348,"y":157,"t":"Positive (A>C)"}]},"mark":{"type":"text","font":"Lato","fontSize":21,"align":"left","baseline":"middle","color":"#214a2c"},"encoding":{"text":{"field":"t"}}},
{"data":{"values":[{"x":1479.3,"x2":1492.9,"y":90.2},{"x":1472.6,"x2":1499.7,"y":101.3},{"x":1465.9,"x2":1506.6,"y":112.5},{"x":1459.2,"x2":1513.4,"y":123.7},{"x":1452.5,"x2":1520.3,"y":134.9},{"x":1445.8,"x2":1527.2,"y":146},{"x":1439.1,"x2":1534,"y":157.2},{"x":1432.4,"x2":1540.9,"y":168.4},{"x":1425.7,"x2":1547.7,"y":179.5}]},"mark":{"type":"rule","color":"#e0a8a8","strokeWidth":1,"strokeDash":[3,3]},"encoding":{"x2":{"field":"x2"}}},
{"data":{"values":[{"x":1432.6,"y":190.7,"x2":1425.7,"y2":179.5},{"x":1446.1,"y":190.7,"x2":1432.4,"y2":168.4},{"x":1459.7,"y":190.7,"x2":1439.1,"y2":157.2},{"x":1473.2,"y":190.7,"x2":1445.8,"y2":146},{"x":1486.8,"y":190.7,"x2":1452.5,"y2":134.9},{"x":1500.4,"y":190.7,"x2":1459.2,"y2":123.7},{"x":1513.9,"y":190.7,"x2":1465.9,"y2":112.5},{"x":1527.5,"y":190.7,"x2":1472.6,"y2":101.3},{"x":1541,"y":190.7,"x2":1479.3,"y2":90.2},{"x":1432.6,"y":190.7,"x2":1492.9,"y2":90.2},{"x":1446.1,"y":190.7,"x2":1499.7,"y2":101.3},{"x":1459.7,"y":190.7,"x2":1506.6,"y2":112.5},{"x":1473.2,"y":190.7,"x2":1513.4,"y2":123.7},{"x":1486.8,"y":190.7,"x2":1520.3,"y2":134.9},{"x":1500.4,"y":190.7,"x2":1527.2,"y2":146},{"x":1513.9,"y":190.7,"x2":1534,"y2":157.2},{"x":1527.5,"y":190.7,"x2":1540.9,"y2":168.4},{"x":1541,"y":190.7,"x2":1547.7,"y2":179.5}]},"mark":{"type":"rule","color":"#e0a8a8","strokeWidth":1,"strokeDash":[3,3]},"encoding":{"x2":{"field":"x2"},"y2":{"field":"y2"}}},
{"data":{"values":[{"x":1486,"y":79,"x2":1419,"y2":190.7},{"x":1486,"y":79,"x2":1554.6,"y2":190.7}]},"mark":{"type":"rule","color":"#2a2a2a","strokeWidth":1.3},"encoding":{"x2":{"field":"x2"},"y2":{"field":"y2"}}},
{"data":{"values":[{"x":1417,"x2":1556,"y":190.7}]},"mark":{"type":"rule","color":"#000000","strokeWidth":3},"encoding":{"x2":{"field":"x2"}}},
{"data":{"values":[{"x":1486,"y":79},{"x":1479.3,"y":90.2},{"x":1492.9,"y":90.2},{"x":1472.6,"y":101.3},{"x":1499.7,"y":101.3},{"x":1465.9,"y":112.5},{"x":1506.6,"y":112.5},{"x":1459.2,"y":123.7},{"x":1513.4,"y":123.7},{"x":1452.5,"y":134.9},{"x":1520.3,"y":134.9},{"x":1445.8,"y":146},{"x":1527.2,"y":146},{"x":1439.1,"y":157.2},{"x":1534,"y":157.2},{"x":1432.4,"y":168.4},{"x":1540.9,"y":168.4},{"x":1425.7,"y":179.5},{"x":1547.7,"y":179.5},{"x":1419,"y":190.7},{"x":1554.6,"y":190.7}]},"mark":{"type":"point","shape":"M-6,-1.5L6,-1.5L6,1.5L-6,1.5Z","size":4,"filled":true,"color":"#222222","opacity":1}},
{"data":{"values":[{"x":1419,"y":190.7},{"x":1432.6,"y":190.7},{"x":1446.1,"y":190.7},{"x":1459.7,"y":190.7},{"x":1473.2,"y":190.7},{"x":1486.8,"y":190.7},{"x":1500.4,"y":190.7},{"x":1513.9,"y":190.7},{"x":1527.5,"y":190.7},{"x":1541,"y":190.7},{"x":1554.6,"y":190.7}]},"mark":{"type":"point","shape":"M-1,-7L1,-7L1,7L-1,7Z","size":4,"filled":true,"color":"#000000","opacity":1}},
{"data":{"values":[{"x":1482,"y":155}]},"mark":{"type":"point","shape":"circle","size":230,"filled":true,"color":"#b5524e","stroke":"#1a1a1a","strokeWidth":1.5,"opacity":1}},
{"data":{"values":[{"x":1422,"x2":1453,"y":711}]},"mark":{"type":"rule","color":"#6f8fb8","strokeWidth":1.3},"encoding":{"x2":{"field":"x2"}}},
{"data":{"values":[{"x":1438,"y":695,"y2":727}]},"mark":{"type":"rule","color":"#6f8fb8","strokeWidth":1.3},"encoding":{"y2":{"field":"y2"}}},
{"data":{"values":[{"x":1493,"y":34.5}]},"mark":{"type":"point","shape":"M-7,38L-11,30Q-27,27 -27,12L-33,5L-28,-5Q-28,-32 -5,-36Q25,-38 31,-15Q33,10 14,35L-7,38","size":4,"filled":false,"stroke":"#666666","strokeWidth":1,"opacity":1}},
{"data":{"values":[{"x":1495.5,"y":29.5}]},"mark":{"type":"point","shape":"M-12,-2Q-10,-12 0,-13M-20,-5Q-16,-21 -2,-23M-28,-7Q-20,-28 -4,-31","size":4,"filled":false,"stroke":"#b3dc70","strokeWidth":5,"opacity":1}},
{"data":{"values":[{"x":1495.5,"y":29.5}]},"mark":{"type":"point","shape":"M10,-8Q14,4 8,18M20,-13Q26,5 13,27M31,-22Q38,6 20,32","size":4,"filled":false,"stroke":"#c7aeea","strokeWidth":6,"opacity":1}},
{"data":{"values":[{"x":1495.5,"y":29.5}]},"mark":{"type":"point","shape":"circle","size":120,"filled":true,"color":"#a5d055","opacity":1}},
{"data":{"values":[{"x":1490,"y":49,"t":"K2V"}]},"mark":{"type":"text","font":"Lato","fontSize":27,"fontWeight":"bold","align":"center","baseline":"alphabetic","color":"#000000"},"encoding":{"text":{"field":"t"}}},
{"data":{"values":[{"x":1510,"y":58,"t":"Ltd."}]},"mark":{"type":"text","font":"Lato","fontSize":12,"align":"center","baseline":"alphabetic","color":"#000000"},"encoding":{"text":{"field":"t"}}},
{"data":{"name":"legend"},"mark":{"type":"point","filled":true,"shape":"circle","size":220,"opacity":1},"encoding":{"color":{"field":"g","type":"nominal","scale":{"domain":["A","C","D","M","N","L","S","T"],"range":["#1f9a50","#e4674c","#7b1596","#6a2f98","#5d4e8e","#a99cc8","#d6f04c","#eeeeee"]},"legend":null}}},
{"data":{"name":"legend"},"mark":{"type":"point","filled":true,"shape":"circle","size":220,"opacity":1,"fill":{"gradient":"radial","x1":0.5,"y1":0.42,"r1":0,"x2":0.5,"y2":0.5,"r2":0.5,"stops":[{"offset":0,"color":"rgba(255,255,255,0.7)"},{"offset":0.35,"color":"rgba(255,255,255,0.15)"},{"offset":0.7,"color":"rgba(0,0,0,0)"},{"offset":1,"color":"rgba(0,0,0,0.4)"}]}}},
{"data":{"name":"legendR"},"mark":{"type":"point","filled":false,"shape":"circle","size":190,"strokeWidth":2,"opacity":1},"encoding":{"stroke":{"field":"m","type":"nominal","scale":{"domain":["X","R","B","P","O","C","K"],"range":["#222222","#7b1f92","#3f9f5f","#a4cd70","#a9aca9","#e5995a","#d92e1c"]},"legend":null}}},
{"data":{"values":[{"x":52,"y":394,"t":"Academic"},{"x":52,"y":430,"t":"Calibration"},{"x":52,"y":466,"t":"> 24 yrs in industry"},{"x":52,"y":502,"t":"13-24 yrs in industry"},{"x":52,"y":538,"t":"6-12 yrs in industry"},{"x":52,"y":574,"t":"1-5 yrs in industry"},{"x":52,"y":610,"t":"Student"},{"x":52,"y":647,"t":"Mood:"},{"x":52,"y":683,"t":"Self: Reckless"},{"x":52,"y":719,"t":"Self: Bullish"},{"x":52,"y":755,"t":"Self: Opportunistic"},{"x":52,"y":791,"t":"Self: Open"},{"x":52,"y":827,"t":"Self: Cautious"},{"x":52,"y":863,"t":"Self: Critical"},{"x":52,"y":899,"t":"Total"}]},"mark":{"type":"text","font":"Lato","fontSize":22,"align":"left","baseline":"middle","color":"#111111"},"encoding":{"text":{"field":"t"}}}
]}
